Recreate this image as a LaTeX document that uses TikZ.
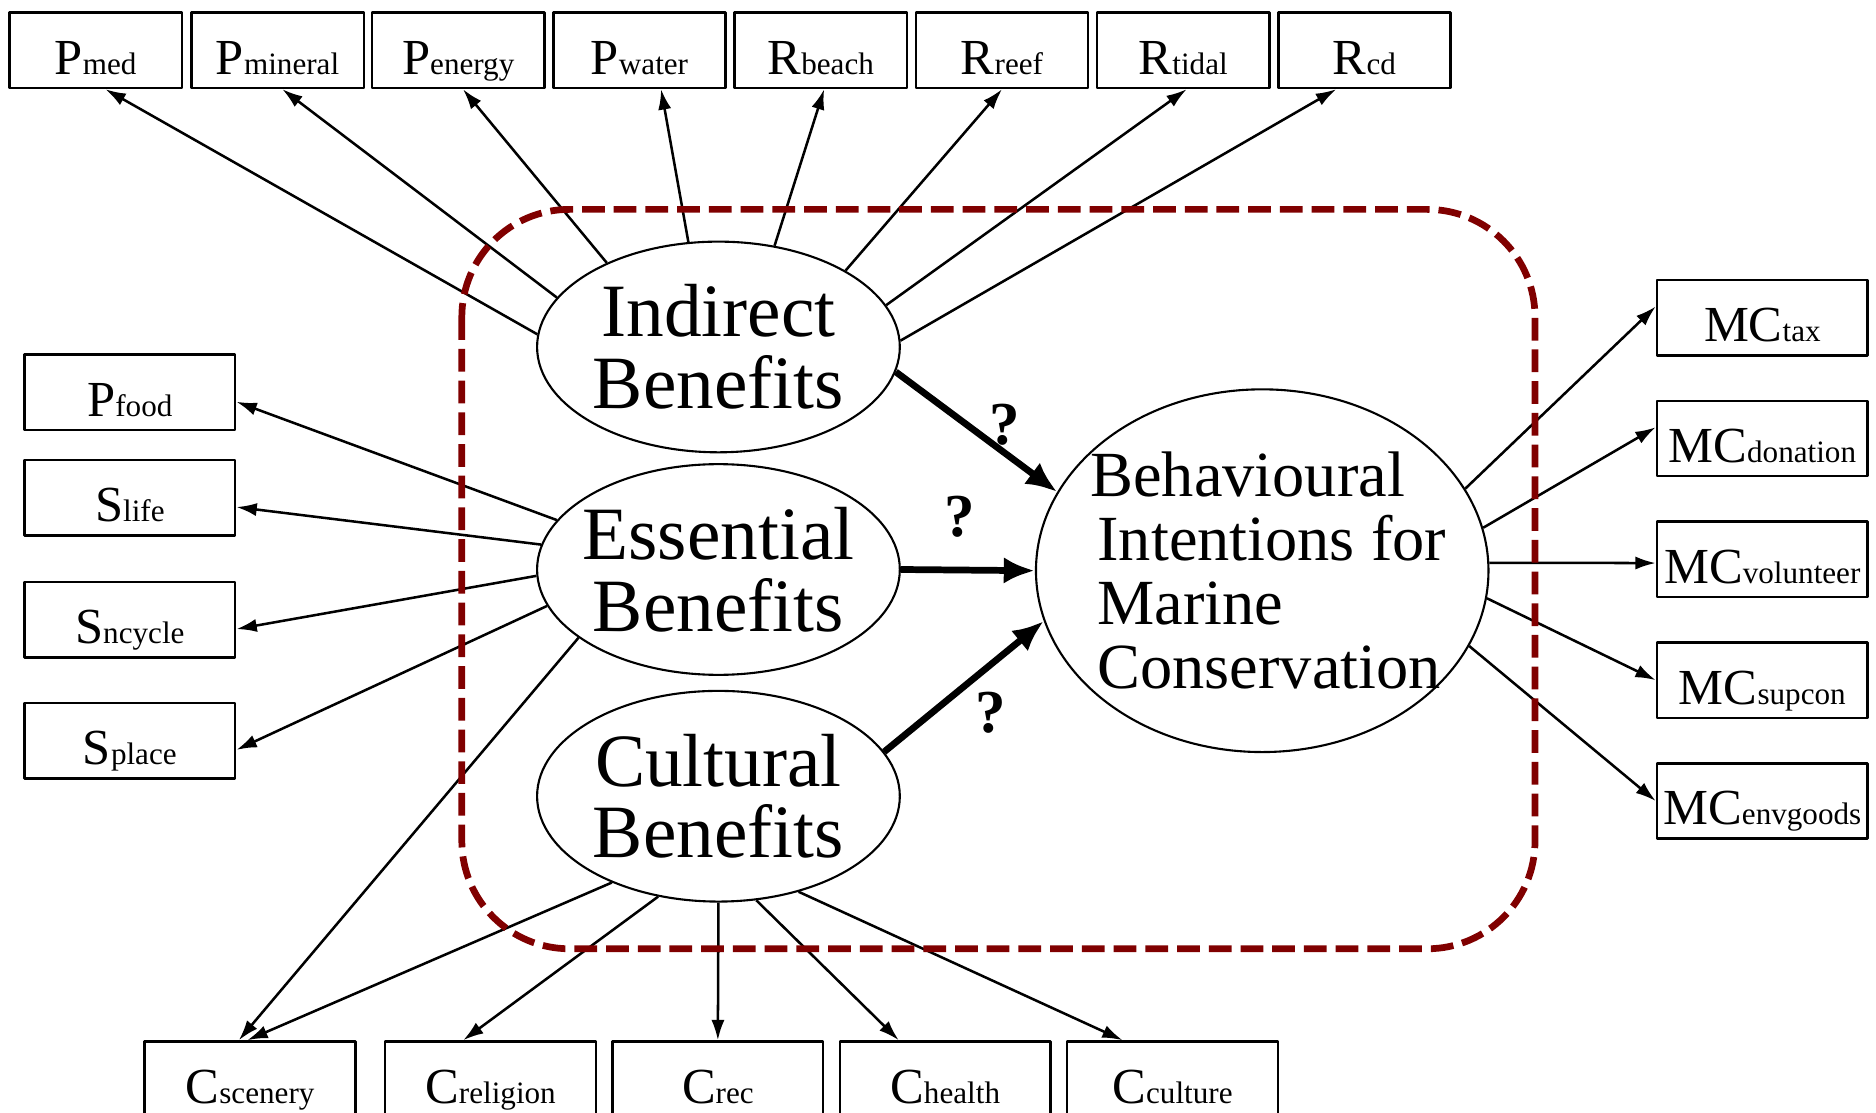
\documentclass[tikz,border=0pt]{standalone}
\usepackage{fontspec}
\setmainfont{Liberation Serif}
\usetikzlibrary{shapes.geometric,arrows.meta}
\newcommand{\lab}[2]{{\fontsize{12}{12}\selectfont #1}{\fontsize{7.4}{8}\selectfont #2}}
\begin{document}
\begin{tikzpicture}[x=0.01cm, y=-0.01cm, line join=round, >={Latex[length=0.17cm,width=0.11cm]},
	box/.style={draw, line width=0.6pt, minimum width=1.76cm, minimum height=0.63cm, inner sep=0pt, text height=0.4cm, text depth=0pt},
	topbox/.style={box, minimum width=1.44cm},
	benefit/.style={draw, ellipse, line width=0.5pt, inner sep=0pt, minimum width=3.03cm, minimum height=1.76cm,
		label={[align=center, font=\fontsize{17.9}{17}\selectfont]center:{#1}}},
	link/.style={->, line width=0.6pt},
	main/.style={-{Latex[length=0.26cm,width=0.22cm]}, line width=1.6pt},
	qmark/.style={font=\fontsize{14.5}{14.5}\selectfont\bfseries, inner sep=0pt}]
	\useasboundingbox (0,0) rectangle (1568,930);
	\def\xe{600.5}
	\def\xl{108.5}
	\def\xr{1473}
	\def\yb{902}
	% latent variables
	\node[benefit={Indirect\\Benefits}] (ind) at (\xe,290) {};
	\node[benefit={Essential\\Benefits}] (ess) at (\xe,476) {};
	\node[benefit={Cultural\\Benefits}] (cul) at (\xe,665.5) {};
	\node[draw, ellipse, line width=0.5pt, inner sep=0pt, minimum width=3.78cm, minimum height=3.03cm,
		label={[align=left, font=\fontsize{15.3}{15.2}\selectfont, xshift=0.08cm]center:{\hspace*{-0.06cm}Behavioural\\Intentions for\\Marine\\Conservation}}] (bi) at (1055,477) {};
	% indicators
	\foreach \n/\x/\l/\s in {pmed/80/P/med, pmin/232/P/mineral, pene/383/P/energy, pwat/534.5/P/water, rbea/686/R/beach, rree/837.5/R/reef, rtid/989/R/tidal, rcd/1140.5/R/cd}
		\node[topbox] (\n) at (\x,42) {\lab{\l}{\s}};
	\foreach \n/\y/\l/\s in {pfood/328/P/food, slife/416/S/life, sncy/518/S/ncycle, splc/619/S/place}
		\node[box] (\n) at (\xl,\y) {\lab{\l}{\s}};
	\foreach \n/\y/\s in {mctax/265.5/tax, mcdon/366.5/donation, mcvol/467.5/volunteer, mcsup/568.5/supcon, mcenv/669.5/envgoods}
		\node[box] (\n) at (\xr,\y) {\lab{MC}{\s}};
	\foreach \n/\x/\s in {cscn/209/scenery, crel/410/religion, crec/600/rec, chea/790/health, ccul/980/culture}
		\node[box] (\n) at (\x,\yb) {\lab{C}{\s}};
	% loadings
	\foreach \n/\a/\e in {pmed/176/-76, pmin/163/-83, pene/143/-83, pwat/106/-61, rbea/61/-85, rree/31/-90, rtid/14/-85, rcd/2/-126}
		\draw[link] (ind.\a) -- (\n.\e);
	\foreach \n/\a in {pfood/163, slife/172, sncy/182, splc/192}
		\draw[link] (ess.\a) -- (\n.-5);
	\draw[link] (ess.206) -- (cscn.106);
	\foreach \n/\a/\e in {cscn/219/94, crel/239/125, crec/270/90, chea/290/140, ccul/310/142}
		\draw[link] (cul.\a) -- (\n.\e);
	\foreach \n/\a/\e in {mctax/22/174, mcdon/11/174, mcvol/2/182, mcsup/-7/180, mcenv/-20/180}
		\draw[link] (bi.\a) -- (\n.\e);
	% structural paths
	\draw[main] (ind.-8) -- (bi.159);
	\draw[main] (ess.0) -- (bi.180);
	\draw[main] (cul.15) -- (bi.193);
	\node[qmark] (q1) at (840,355) {?};
	\node[qmark] (q2) at (802,432) {?};
	\node[qmark] (q3) at (828,596) {?};
	\draw[red!50!black, line width=1.6pt, dash pattern=on 0.19cm off 0.075cm, rounded corners=0.9cm] (386,175) rectangle (1283,793);
\end{tikzpicture}
\end{document}
